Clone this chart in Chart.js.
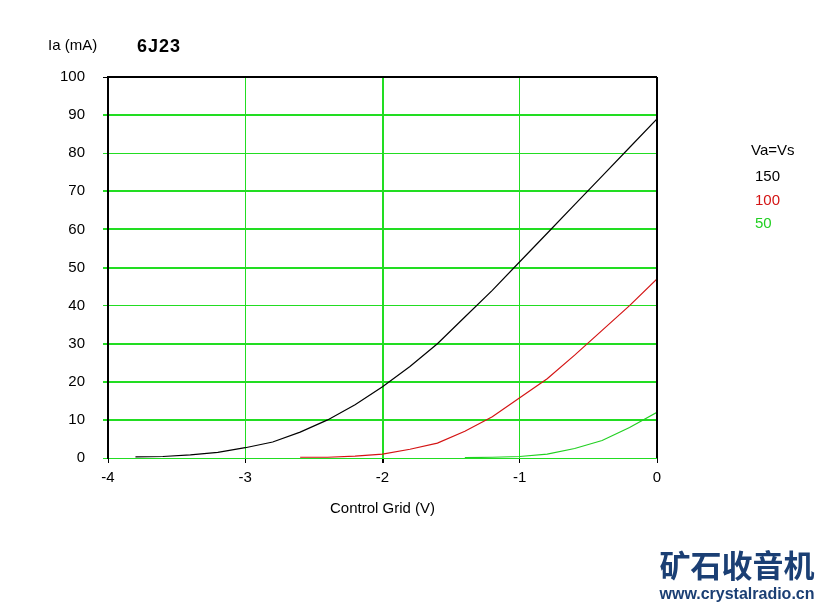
<!DOCTYPE html>
<html>
<head>
<meta charset="utf-8">
<script src="https://cdn.jsdelivr.net/npm/chart.js@4/dist/chart.umd.min.js"></script>
<style>
  html, body { margin: 0; padding: 0; background: #fff; }
  #wrap { width: 825px; height: 607px; }
</style>
</head>
<body>
<div id="wrap"><canvas id="tubeChart" width="825" height="607"></canvas></div>
<script>
// grid voltage (V) and plate current (mA)
var grid150 = [-3.8, -3.6, -3.4, -3.2, -3.0, -2.8, -2.6, -2.4, -2.2, -2.0, -1.8, -1.6, -1.4, -1.2, -1.0, -0.8, -0.6, -0.4, -0.2, 0];
var ia150 = [0.3, 0.4, 0.8, 1.5, 2.7, 4.2, 6.8, 10, 14, 18.7, 24, 30, 37, 44, 51.5, 59, 66.5, 74, 81.5, 89];
var grid100 = [-2.6, -2.4, -2.2, -2.0, -1.8, -1.6, -1.4, -1.2, -1.0, -0.8, -0.6, -0.4, -0.2, 0];
var ia100 = [0.2, 0.2, 0.5, 1.0, 2.3, 3.9, 7, 10.8, 15.8, 20.8, 27, 33.5, 40, 47];
var grid50 = [-1.4, -1.2, -1.0, -0.8, -0.6, -0.4, -0.2, 0];
var ia50 = [0.1, 0.2, 0.4, 1.0, 2.5, 4.6, 8, 12];
var seriesNames = ["150", "100", "50"];
var seriesColors = ["#000000", "#d41414", "#22d022"];
var xTicks = [-4, -3, -2, -1, 0];

var gridGreen = "#22dd22";
var thickY = [10, 20, 30, 50, 60, 70, 90];

function pts(xs, ys) {
  var out = [];
  for (var i = 0; i < xs.length; i++) out.push({ x: xs[i], y: ys[i] });
  return out;
}

var font = "'Liberation Sans', Arial, sans-serif";

var decorations = {
  id: "decorations",
  afterDatasetsDraw: function (chart) {
    var ctx = chart.ctx;
    var a = chart.chartArea;
    ctx.save();
    // frame
    ctx.strokeStyle = "#000";
    ctx.lineWidth = 2;
    ctx.beginPath();
    ctx.moveTo(a.left, a.top);
    ctx.lineTo(a.right, a.top);
    ctx.stroke();
    ctx.lineWidth = 1;
    ctx.beginPath();
    ctx.moveTo(a.right - 0.5, a.top);
    ctx.lineTo(a.right - 0.5, a.bottom);
    ctx.stroke();

    ctx.fillStyle = "#000";
    ctx.textBaseline = "middle";
    ctx.textAlign = "left";
    ctx.font = "15px " + font;
    ctx.fillText("Ia (mA)", 48, 46);
    ctx.font = "bold 18px " + font;
    ctx.letterSpacing = "1px";
    ctx.fillText("6J23", 137, 47);
    ctx.letterSpacing = "0px";

    // legend
    ctx.font = "15px " + font;
    ctx.fillText("Va=Vs", 751, 151);
    for (var i = 0; i < seriesNames.length; i++) {
      ctx.fillStyle = seriesColors[i];
      ctx.fillText(seriesNames[i], 755, 177 + i * 23.5);
    }

    // site mark
    ctx.fillStyle = "#1b3f74";
    ctx.textAlign = "center";
    ctx.font = "bold 31px 'Noto Sans CJK SC', sans-serif";
    ctx.fillText("矿石收音机", 737, 565);
    ctx.font = "bold 16px " + font;
    ctx.fillText("www.crystalradio.cn", 737, 595);
    ctx.restore();
  }
};

new Chart("tubeChart", {
  type: "line",
  data: {
    datasets: [
      { label: seriesNames[0], data: pts(grid150, ia150), borderColor: seriesColors[0] },
      { label: seriesNames[1], data: pts(grid100, ia100), borderColor: seriesColors[1] },
      { label: seriesNames[2], data: pts(grid50, ia50), borderColor: seriesColors[2] }
    ]
  },
  options: {
    responsive: false,
    animation: false,
    layout: { padding: { left: 0, top: 77, right: 168, bottom: 89 } },
    elements: {
      line: { borderWidth: 1.2, tension: 0, fill: false },
      point: { radius: 0 }
    },
    plugins: {
      legend: { display: false },
      tooltip: { enabled: false }
    },
    scales: {
      x: {
        type: "linear",
        min: -4,
        max: 0,
        afterBuildTicks: function (scale) {
          scale.ticks = xTicks.map(function (v) { return { value: v }; });
        },
        afterFit: function (scale) { scale.height = 60; },
        grid: {
          color: function (c) { return c.tick && c.tick.value === 0 ? "#000" : gridGreen; },
          lineWidth: function (c) { return c.tick && c.tick.value === -2 ? 2 : 1; },
          tickColor: "#000",
          tickLength: 5
        },
        border: { display: false },
        ticks: { color: "#000", font: { family: font, size: 15 }, padding: 6, maxRotation: 0 },
        title: {
          display: true,
          text: "Control Grid (V)",
          color: "#000",
          font: { family: font, size: 15 },
          padding: { top: 0, bottom: 0 }
        }
      },
      y: {
        min: 0,
        max: 100,
        afterFit: function (scale) { scale.width = 108; },
        ticks: { stepSize: 10, color: "#000", font: { family: font, size: 15 }, padding: 18 },
        grid: {
          color: function (c) { return c.tick && c.tick.value === 100 ? "#000" : gridGreen; },
          lineWidth: function (c) { return c.tick && thickY.indexOf(c.tick.value) >= 0 ? 2 : 1; },
          tickLength: 5
        },
        border: { color: "#000", width: 2 }
      }
    }
  },
  plugins: [decorations]
});
</script>
</body>
</html>
